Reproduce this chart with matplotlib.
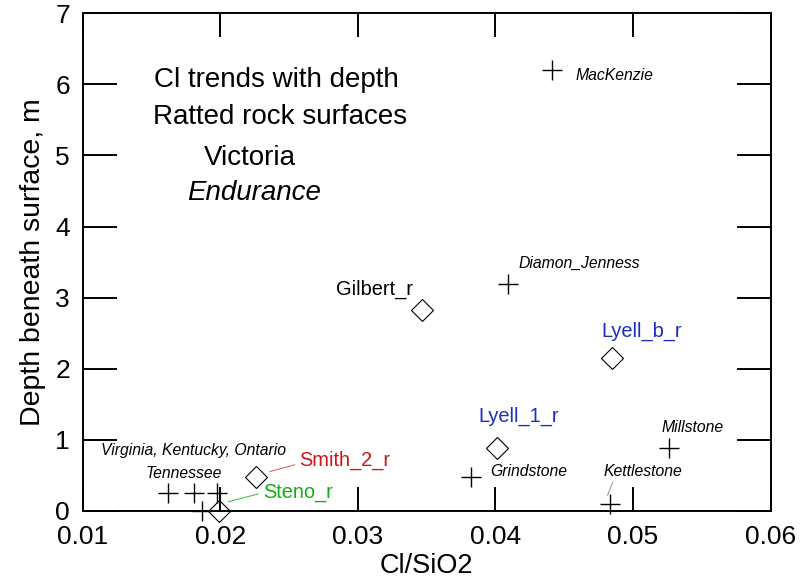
import matplotlib.pyplot as plt

plt.rcParams['font.family'] = ['Liberation Sans', 'DejaVu Sans']

# rock samples (crosses): Cl/SiO2 and depth beneath surface (m)
rock_names = ['MacKenzie', 'Diamon_Jenness', 'Millstone', 'Grindstone', 'Kettlestone',
              'Tennessee', 'Virginia', 'Kentucky', 'Ontario']
rock_cl    = [0.0441, 0.0409, 0.0526, 0.0382, 0.0483, 0.0162, 0.0181, 0.0198, 0.0187]
rock_depth = [6.20, 3.19, 0.89, 0.48, 0.10, 0.25, 0.25, 0.25, 0.00]

# ratted rock surfaces (diamonds)
rat_names = ['Gilbert_r', 'Lyell_b_r', 'Lyell_1_r', 'Smith_2_r', 'Steno_r']
rat_cl    = [0.0347, 0.0485, 0.0401, 0.0226, 0.0199]
rat_depth = [2.82, 2.15, 0.88, 0.48, 0.00]

title_lines = ['Cl trends with depth', 'Ratted rock surfaces', 'Victoria', 'Endurance']

fig = plt.figure(figsize=(8, 5.87), dpi=100)
ax = fig.add_axes([82.5/800, 1 - 511/587, 688.2/800, 497.7/587])

ax.plot(rock_cl, rock_depth, '+', ms=15, mew=1.0, color='black', clip_on=False, zorder=3)
ax.plot(rat_cl, rat_depth, 'D', ms=11, mfc='none', mec='black', mew=0.8,
        clip_on=False, zorder=3)

# sample labels
it = dict(fontsize=11.3, style='italic', color='black')
ax.text(0.0458, 6.13, 'MacKenzie', ha='left', va='center', **it)
ax.text(0.04165, 3.42, 'Diamon_Jenness', ha='left', va='baseline', **it)
ax.text(0.0543, 1.115, 'Millstone', ha='center', va='baseline', **it)
ax.text(0.0396, 0.49, 'Grindstone', ha='left', va='baseline', **it)
ax.text(0.0507, 0.49, 'Kettlestone', ha='center', va='baseline', **it)
ax.text(0.0181, 0.79, 'Virginia, Kentucky, Ontario', ha='center', va='baseline', **it)
ax.text(0.01735, 0.47, 'Tennessee', ha='center', va='baseline', **it)
ax.plot([0.04851, 0.04815], [0.40, 0.22], color='gray', lw=0.6)

lab = dict(fontsize=14.4, va='baseline')
ax.text(0.0340, 3.04, 'Gilbert_r', ha='right', color='black', **lab)
ax.text(0.0506, 2.45, 'Lyell_b_r', ha='center', color='#1a2fc0', **lab)
ax.text(0.0417, 1.256, 'Lyell_1_r', ha='center', color='#1a2fc0', **lab)
ax.text(0.02576, 0.63, 'Smith_2_r', ha='left', color='#d01515', **lab)
ax.text(0.02314, 0.18, 'Steno_r', ha='left', color='#12b012', **lab)
ax.plot([0.02362, 0.02542], [0.555, 0.65], color='#e05050', lw=0.7)
ax.plot([0.02059, 0.02277], [0.13, 0.24], color='#30c030', lw=0.7)

# title block
ax.text(0.02408, 5.97, title_lines[0], ha='center', va='baseline', fontsize=20)
ax.text(0.02435, 5.45, title_lines[1], ha='center', va='baseline', fontsize=20)
ax.text(0.02217, 4.87, title_lines[2], ha='center', va='baseline', fontsize=20)
ax.text(0.02246, 4.37, title_lines[3], ha='center', va='baseline', fontsize=20, style='italic')

ax.set_xlim(0.01, 0.06)
ax.set_ylim(0, 7)
ax.set_xticks([0.01, 0.02, 0.03, 0.04, 0.05, 0.06])
ax.set_xticklabels(['0.01', '0.02', '0.03', '0.04', '0.05', '0.06'])
ax.set_yticks(range(8))
ax.tick_params(direction='in', top=True, right=True, width=1.4, labelsize=19,
               colors='black')
ax.tick_params(axis='x', length=17, pad=10)
ax.tick_params(axis='y', length=24.5, pad=9)
for s in ax.spines.values():
    s.set_linewidth(1.4)

ax.set_xlabel('Cl/SiO2', fontsize=19.5, labelpad=3)
ax.set_ylabel('Depth beneath surface, m', fontsize=20.5, labelpad=6.5)

fig.savefig('out.png', dpi=100)
